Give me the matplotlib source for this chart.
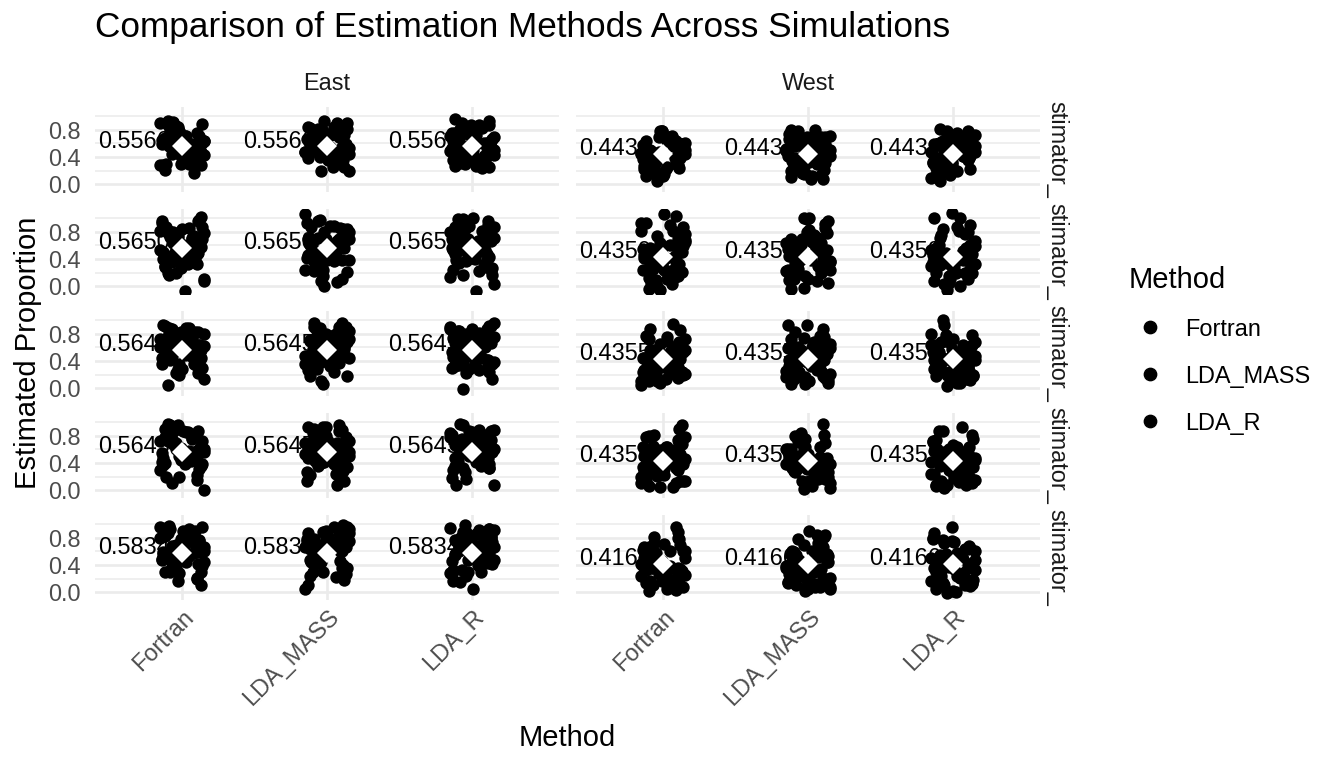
import numpy as np
import matplotlib.pyplot as plt
from matplotlib.lines import Line2D

plt.rcParams['font.family'] = ['Liberation Sans', 'DejaVu Sans']

# Categories
methods = ['Fortran', 'LDA_MASS', 'LDA_R']
regions = ['East', 'West']
row_labels = ['stimator_'] * 5

# Mean estimated proportion per simulation row (same for all three methods)
east_means = [0.5566, 0.5650, 0.5645, 0.5645, 0.5834]
west_means = [0.4434, 0.4350, 0.4355, 0.4355, 0.4166]

# Estimated proportions, one list per row
east_1 = [0.62, 0.35, 0.81, 0.47, 0.93, 0.28, 0.55, 0.71, 0.40, 0.66, 0.21, 0.58, 0.87, 0.44,
          0.74, 0.31, 0.52, 0.69, 0.38, 0.84, 0.60, 0.25, 0.49, 0.77, 0.57, 0.33, 0.64, 0.90,
          0.42, 0.53, 0.72, 0.29, 0.61, 0.46, 0.79, 0.36, 0.68, 0.51, 0.58, 0.45,
          0.50, 0.83, 0.27, 0.65, 0.41, 0.92, 0.54, 0.34, 0.76, 0.59, 0.23, 0.70, 0.48, 0.88,
          0.37, 0.63, 0.56, 0.80, 0.43, 0.67]
east_2 = [0.95, 0.22, 0.68, 0.41, 1.02, 0.55, 0.30, 0.84, 0.12, 0.63, 0.47, 0.78, -0.04, 0.59,
          0.91, 0.36, 0.72, 0.50, 0.26, 0.87, 0.66, 0.43, 0.85, 0.18, 0.61, 0.75, 0.39, 0.82,
          0.53, 0.33, 0.70, 0.80, 0.45, 0.58, 0.28, 0.80, 0.64, 0.49, 0.70, 0.56,
          0.60, 0.15, 0.93, 0.44, 0.71, 0.05, 0.83, 0.52, 0.37, 0.97, 0.62, 0.24, 0.77, 0.48,
          0.88, 0.31, 0.67, 0.55, 0.42, 0.74]
east_3 = [0.88, 0.31, 0.62, 0.45, 0.93, 0.02, 0.57, 0.74, 0.38, 0.69, 0.25, 0.81, 0.52, 0.66,
          0.41, 0.90, 0.34, 0.59, 0.77, 0.48, 0.71, 0.20, 0.63, 0.85, 0.43, 0.55, 0.30, 0.79,
          0.67, 0.50, 0.92, 0.36, 0.61, 0.73, 0.46, 0.58, 0.27, 0.83, 0.54, 0.64,
          0.70, 0.40, 0.86, 0.22, 0.60, 0.95, 0.49, 0.33, 0.76, 0.56, 0.12, 0.68, 0.44, 0.89,
          0.53, 0.62, 0.37, 0.80, 0.58, 0.47]
east_4 = [0.91, 0.47, 0.73, 0.20, 0.62, 0.85, 0.39, 0.56, 0.96, 0.03, 0.68, 0.44, 0.80, 0.29,
          0.59, 0.75, 0.51, 0.88, 0.35, 0.65, 0.15, 0.71, 0.54, 0.93, 0.42, 0.60, 0.78, 0.33,
          0.67, 0.49, 0.86, 0.24, 0.57, 0.70, 0.45, 0.82, 0.38, 0.63, 0.52, 0.58,
          0.64, 0.26, 0.89, 0.50, 0.74, 0.10, 0.61, 0.95, 0.40, 0.69, 0.55, 0.31, 0.83, 0.47,
          0.77, 0.58, 0.36, 0.90, 0.53, 0.66]
east_5 = [0.95, 0.60, 0.22, 0.79, 0.48, 0.90, 0.66, 0.35, 0.84, 0.57, 0.06, 0.73, 0.52, 0.97,
          0.41, 0.69, 0.87, 0.29, 0.63, 0.76, 0.45, 0.92, 0.55, 0.18, 0.81, 0.62, 0.38, 0.71,
          0.50, 0.88, 0.33, 0.67, 0.59, 0.93, 0.44, 0.78, 0.26, 0.64, 0.53, 0.74,
          0.70, 0.36, 0.91, 0.58, 0.85, 0.24, 0.62, 0.96, 0.47, 0.77, 0.13, 0.68, 0.54, 0.89,
          0.42, 0.80, 0.60, 0.31, 0.72, 0.65]

west_1 = [0.38, 0.71, 0.19, 0.55, 0.08, 0.64, 0.43, 0.27, 0.76, 0.35, 0.50, 0.14, 0.60, 0.46,
          0.23, 0.69, 0.31, 0.53, 0.80, 0.40, 0.12, 0.57, 0.33, 0.66, 0.45, 0.25, 0.73, 0.37,
          0.49, 0.17, 0.62, 0.42, 0.29, 0.58, 0.78, 0.34, 0.47, 0.21, 0.52, 0.41,
          0.44, 0.63, 0.26, 0.51, 0.15, 0.70, 0.39, 0.56, 0.32, 0.75, 0.48, 0.20, 0.61, 0.36,
          0.67, 0.43, 0.28, 0.54, 0.10, 0.59]
west_2 = [-0.02, 0.74, 0.31, 0.58, 1.04, 0.45, 0.69, 0.16, 0.88, 0.37, 0.52, 0.22, 0.97, 0.41,
          0.09, 0.63, 0.28, 0.50, 0.79, 0.13, 0.34, 0.57, 0.03, 0.82, 0.39, 0.25, 0.61, 0.18,
          0.47, 0.67, 0.30, 0.06, 0.55, 0.42, 0.72, 0.20, 0.36, 0.51, 0.11, 0.44,
          0.40, 0.85, 0.26, 0.60, 0.00, 0.49, 0.70, 0.15, 0.93, 0.35, 0.54, 0.08, 0.77, 0.43,
          0.23, 0.65, 0.33, 1.03, 0.48, 0.19]
west_3 = [0.12, 0.69, 0.38, 0.55, 0.07, 0.97, 0.43, 0.26, 0.62, 0.31, 0.75, 0.19, 0.48, 0.34,
          0.59, 0.10, 0.66, 0.41, 0.23, 0.52, 0.29, 0.80, 0.37, 0.15, 0.57, 0.45, 0.70, 0.21,
          0.33, 0.50, 0.08, 0.64, 0.39, 0.27, 0.54, 0.42, 0.73, 0.17, 0.46, 0.36,
          0.30, 0.61, 0.05, 0.47, 0.84, 0.24, 0.56, 0.40, 0.68, 0.14, 0.51, 0.35, 0.90, 0.28,
          0.44, 0.63, 0.18, 0.53, 0.39, 0.58]
west_4 = [0.09, 0.53, 0.27, 0.80, 0.38, 0.15, 0.61, 0.44, 0.04, 0.97, 0.32, 0.56, 0.20, 0.71,
          0.41, 0.25, 0.49, 0.12, 0.65, 0.35, 0.85, 0.29, 0.46, 0.07, 0.58, 0.40, 0.22, 0.67,
          0.33, 0.51, 0.14, 0.76, 0.43, 0.30, 0.55, 0.18, 0.62, 0.37, 0.48, 0.42,
          0.36, 0.70, 0.11, 0.57, 0.45, 0.88, 0.23, 0.50, 0.31, 0.64, 0.05, 0.47, 0.39, 0.79,
          0.26, 0.53, 0.42, 0.60, 0.17, 0.34]
west_5 = [0.05, 0.40, 0.78, 0.21, 0.52, 0.10, 0.34, 0.65, 0.16, 0.43, 0.94, 0.27, 0.48, 0.03,
          0.59, 0.31, 0.13, 0.71, 0.37, 0.24, 0.55, 0.08, 0.45, 0.82, 0.19, 0.38, 0.62, 0.29,
          0.50, 0.12, 0.67, 0.33, 0.41, 0.07, 0.56, 0.22, 0.74, 0.36, 0.47, 0.26,
          0.30, 0.64, 0.02, 0.49, 0.86, 0.18, 0.42, 0.58, 0.11, 0.35, 0.69, 0.25, 0.53, 0.00,
          0.46, 0.77, 0.15, 0.39, 0.60, 0.28]

east_rows = [east_1, east_2, east_3, east_4, east_5]
west_rows = [west_1, west_2, west_3, west_4, west_5]

# fixed jitter offsets (like geom_jitter), shifted for each group
jit_x = np.array([-0.14, 0.09, -0.03, 0.15, -0.10, 0.05, -0.07, 0.12, 0.01, -0.12, 0.08, -0.05,
                  0.14, -0.01, 0.10, -0.15, 0.03, -0.08, 0.11, -0.04, 0.07, -0.13, 0.13, -0.02,
                  0.04, -0.11, 0.15, -0.06, 0.06, -0.09, 0.02, 0.12, -0.14, 0.09, -0.03, 0.10,
                  -0.12, 0.00, 0.14, -0.07, 0.05, -0.10, 0.13, -0.04, 0.08, -0.15, 0.11, -0.01,
                  -0.08, 0.15, -0.12, 0.03, 0.10, -0.06, 0.01, -0.13, 0.07, -0.02, 0.12, -0.09])
jit_y = np.array([0.03, -0.02, 0.04, -0.04, 0.01, 0.02, -0.03, 0.00, 0.04, -0.01, -0.04, 0.03,
                  0.02, -0.02, 0.01, -0.03, 0.04, 0.00, -0.04, 0.02, -0.01, 0.03, -0.02, 0.01,
                  0.04, -0.03, 0.00, 0.02, -0.04, 0.03, -0.01, 0.01, -0.02, 0.04, -0.03, 0.02,
                  0.00, -0.04, 0.03, -0.01, -0.02, 0.04, 0.01, -0.03, 0.03, -0.01, 0.00, -0.04,
                  0.02, 0.04, -0.02, 0.01, -0.03, 0.03, -0.04, 0.00, 0.02, -0.01, 0.04, -0.03])

W, H = 1344, 768
fig = plt.figure(figsize=(W / 100, H / 100), dpi=100)


def box(x0, y0, x1, y1):
    # pixel box (top-left origin) -> figure fraction
    return [x0 / W, 1 - y1 / H, (x1 - x0) / W, (y1 - y0) / H]


grid_col = '#EBEBEB'
col_px = [(95, 559), (576, 1040)]
row_top = 106.7
row_step = 102
panel_h = 85

for r in range(5):
    y0 = row_top + row_step * r
    for c, region in enumerate(regions):
        ax = fig.add_axes(box(col_px[c][0], y0, col_px[c][1], y0 + panel_h))
        vals = np.array(east_rows[r] if c == 0 else west_rows[r])
        mean = east_means[r] if c == 0 else west_means[r]
        for m, method in enumerate(methods):
            gi = r * 6 + c * 3 + m
            xs = m + np.roll(jit_x, 7 * gi)
            ys = vals + np.roll(jit_y, 13 * gi)
            ax.text(m - 0.33, mean + 0.08, f'{mean:.4f}', ha='center', va='center',
                    fontsize=16.9, color='black', zorder=2)
            ax.scatter(xs, ys, s=80, color='black', linewidths=0, zorder=3)
            ax.plot(m, mean, marker='D', ms=10.5, color='white', mew=0, zorder=4)

        ax.set_xlim(-0.6, 2.6)
        ax.set_ylim(-0.114, 1.145)
        ax.set_xticks(range(3))
        ax.set_yticks([0.0, 0.4, 0.8])
        ax.set_yticks([0.2, 0.6, 1.0], minor=True)
        ax.grid(which='major', color=grid_col, lw=1.9, zorder=0)
        ax.grid(which='minor', axis='y', color=grid_col, lw=1.1, zorder=0)
        ax.set_axisbelow(True)
        for s in ax.spines.values():
            s.set_visible(False)
        ax.tick_params(which='both', length=0)
        ax.tick_params(axis='y', pad=10, labelsize=16.9, labelcolor='#4D4D4D')
        ax.tick_params(axis='x', pad=4, labelsize=16.9, labelcolor='#4D4D4D')
        if c == 0:
            ax.set_yticklabels(['0.0', '0.4', '0.8'])
        else:
            ax.set_yticklabels([])
        if r == 4:
            ax.set_xticklabels(methods, rotation=45, ha='right', va='top',
                               rotation_mode='anchor')
        else:
            ax.set_xticklabels([])

    # right strip
    fig.text(1057 / W, 1 - (y0 + panel_h / 2) / H, row_labels[r], rotation=270,
             ha='center', va='center', fontsize=16.9, color='#1A1A1A')

# top strips
for c, region in enumerate(regions):
    cx = (col_px[c][0] + col_px[c][1]) / 2
    fig.text(cx / W, 1 - 84 / H, region, ha='center', va='center',
             fontsize=16.9, color='#1A1A1A')

fig.text(95 / W, 1 - 28 / H, 'Comparison of Estimation Methods Across Simulations',
         ha='left', va='center', fontsize=25.3)
fig.text(28 / W, 1 - 353 / H, 'Estimated Proportion', rotation=90,
         ha='center', va='center', fontsize=21)
fig.text(567 / W, 1 - 738 / H, 'Method', ha='center', va='center', fontsize=21)

handles = [Line2D([], [], marker='o', ls='', color='black', ms=8.9) for _ in methods]
fig.legend(handles, methods, title='Method', loc='upper left',
           bbox_to_anchor=(1117 / W, 1 - 254 / H), frameon=False, fontsize=16.9,
           title_fontsize=21, handlelength=1.8, handletextpad=0.6, labelspacing=1.02,
           alignment='left', borderpad=0)

fig.savefig('out.png', dpi=100)
